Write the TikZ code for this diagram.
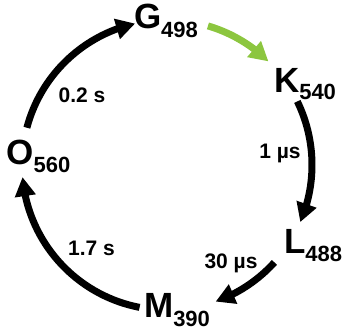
\documentclass[tikz,border=0pt]{standalone}
\usepackage{fontspec}
\setmainfont{Liberation Sans}
\usetikzlibrary{arrows.meta,bending}
\definecolor{lgreen}{RGB}{140,198,63}
\newcommand{\st}[3]{{\fontsize{35}{35}\selectfont #1}{\fontsize{22}{22}\selectfont\raisebox{-#3pt}{#2}}}
\tikzset{
  state/.style={inner sep=0pt,anchor=base west,font=\bfseries},
  rate/.style={inner sep=0pt,anchor=base,font=\bfseries\fontsize{21}{21}\selectfont},
  cyc/.style={line width=7pt,-{Triangle[length=19pt,width=20pt,flex]}},
}
\begin{document}
\begin{tikzpicture}[x=1pt,y=-1pt]
\useasboundingbox (0,0) rectangle (348,331);
\coordinate (c) at (167,165);
\def\R{145}
% states
\node[state] (G) at (133.8,29) {\st{G}{498}{9}};
\node[state] (K) at (273.8,92.5) {\st{K}{540}{7}};
\node[state] (L) at (283.8,253) {\st{L}{488}{8.5}};
\node[state] (M) at (143.9,317.5) {\st{M}{390}{8.5}};
\node[state] (O) at (6.2,165) {\st{O}{560}{8}};
% rates
\node[rate] (r1) at (82,102.7) {0.2 s};
\node[rate] (r2) at (280,158.5) {1 µs};
\node[rate] (r3) at (231,269) {30 µs};
\node[rate] (r4) at (91.5,255) {1.7 s};
% arcs (clockwise in screen coords)
\coordinate (oG) at ([shift={(194.9:\R)}]c);
\coordinate (gK) at ([shift={(286.4:\R)}]c);
\coordinate (kL) at ([shift={(334:\R)}]c);
\coordinate (lM) at ([shift={(42.2:\R)}]c);
\coordinate (mO) at ([shift={(100.9:\R)}]c);
\draw[cyc] (oG) arc[start angle=194.9,end angle=257.3,radius=\R];
\draw[cyc,lgreen] (gK) arc[start angle=286.4,end angle=314.4,radius=\R];
\draw[cyc] (kL) arc[start angle=334,end angle=383.2,radius=\R];
\draw[cyc] (lM) arc[start angle=42.2,end angle=70.4,radius=\R];
\draw[cyc] (mO) arc[start angle=100.9,end angle=175.2,radius=\R];
\end{tikzpicture}
\end{document}
